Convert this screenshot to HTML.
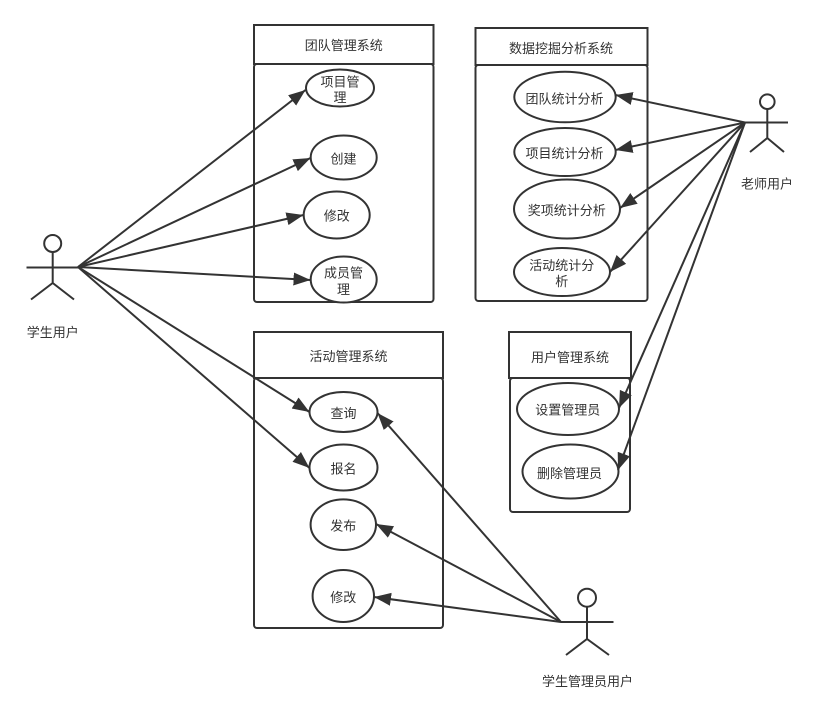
<!DOCTYPE html>
<html>
<head>
<meta charset="utf-8">
<style>
html,body{margin:0;padding:0;background:#fff;}
svg{display:block;}
text{font-family:"Liberation Sans","Noto Sans CJK SC",sans-serif;font-size:13px;fill:#333;text-anchor:middle;}
.s{fill:#fff;stroke:#333;stroke-width:2;}
.l{fill:none;stroke:#333;stroke-width:2;}
</style>
</head>
<body>
<svg width="819" height="716" viewBox="0 0 819 716" xmlns="http://www.w3.org/2000/svg">
<defs>
<marker id="a" markerUnits="userSpaceOnUse" markerWidth="18" markerHeight="14" refX="17" refY="7" orient="auto">
<path d="M0 0.500L17 7L0 13.500Z" fill="#333"/>
</marker>
</defs>

<!-- containers -->
<rect class="s" x="254" y="64" width="179.500" height="238" rx="3"/>
<rect class="s" x="254" y="25" width="179.500" height="39"/>
<rect class="s" x="475.500" y="65" width="172" height="236" rx="3"/>
<rect class="s" x="475.500" y="28" width="172" height="37"/>
<rect class="s" x="254" y="378" width="189" height="250" rx="3"/>
<rect class="s" x="254" y="332" width="189" height="46"/>
<rect class="s" x="510" y="378" width="120" height="134" rx="3"/>
<rect class="s" x="509" y="332" width="122" height="46"/>

<!-- ellipses -->
<ellipse class="s" cx="340" cy="88" rx="34" ry="18.500"/>
<ellipse class="s" cx="343.700" cy="157.500" rx="33" ry="22"/>
<ellipse class="s" cx="336.700" cy="215" rx="33" ry="23.500"/>
<ellipse class="s" cx="343.700" cy="279.500" rx="33" ry="23"/>
<ellipse class="s" cx="565" cy="97" rx="50.700" ry="25.300"/>
<ellipse class="s" cx="565" cy="152" rx="50.700" ry="24"/>
<ellipse class="s" cx="567" cy="209" rx="53" ry="29.500"/>
<ellipse class="s" cx="562" cy="272" rx="48" ry="24"/>
<ellipse class="s" cx="343.500" cy="412" rx="34" ry="20"/>
<ellipse class="s" cx="343.500" cy="467.500" rx="34" ry="23"/>
<ellipse class="s" cx="343.300" cy="524.700" rx="32.700" ry="25.300"/>
<ellipse class="s" cx="343.300" cy="596" rx="30.700" ry="26"/>
<ellipse class="s" cx="568" cy="409" rx="51" ry="26"/>
<ellipse class="s" cx="570.500" cy="471.500" rx="48" ry="27"/>

<!-- connectors -->
<g>
<line class="l" x1="78" y1="267" x2="305.500" y2="90" marker-end="url(#a)"/>
<line class="l" x1="78" y1="267" x2="310.500" y2="158" marker-end="url(#a)"/>
<line class="l" x1="78" y1="267" x2="303.500" y2="215" marker-end="url(#a)"/>
<line class="l" x1="78" y1="267" x2="310.500" y2="280" marker-end="url(#a)"/>
<line class="l" x1="78" y1="267" x2="309.500" y2="412" marker-end="url(#a)"/>
<line class="l" x1="78" y1="267" x2="309.500" y2="468" marker-end="url(#a)"/>
<line class="l" x1="745" y1="122.500" x2="615.500" y2="95" marker-end="url(#a)"/>
<line class="l" x1="745" y1="122.500" x2="615.500" y2="150" marker-end="url(#a)"/>
<line class="l" x1="745" y1="122.500" x2="620" y2="208" marker-end="url(#a)"/>
<line class="l" x1="745" y1="122.500" x2="610" y2="272" marker-end="url(#a)"/>
<line class="l" x1="745" y1="122.500" x2="619" y2="408" marker-end="url(#a)"/>
<line class="l" x1="745" y1="122.500" x2="618" y2="470" marker-end="url(#a)"/>
<line class="l" x1="561" y1="622" x2="377.500" y2="413" marker-end="url(#a)"/>
<line class="l" x1="561" y1="622" x2="376" y2="524" marker-end="url(#a)"/>
<line class="l" x1="561" y1="622" x2="374" y2="597" marker-end="url(#a)"/>
</g>

<!-- actors -->
<g class="l">
<circle cx="52.700" cy="243.500" r="8.500"/>
<path d="M52.700 252V283M26.500 267.500H78M31 299.500L52.700 283L74 299.500"/>
<circle cx="767.300" cy="101.700" r="7.300"/>
<path d="M767.300 109V138M745 122.500H788M750 152L767.300 138L784 152"/>
<circle cx="587" cy="597.700" r="9"/>
<path d="M587 606.700V639M561 622H613.500M566 655L587 639L609 655"/>
</g>

<!-- labels -->
<text x="343.700" y="50">团队管理系统</text>
<text x="561" y="53">数据挖掘分析系统</text>
<text x="348.500" y="361">活动管理系统</text>
<text x="570" y="362">用户管理系统</text>
<text x="340" y="86.500">项目管</text>
<text x="340" y="102">理</text>
<text x="343.500" y="163.500">创建</text>
<text x="336.700" y="220.500">修改</text>
<text x="343.500" y="277.500">成员管</text>
<text x="343.500" y="294">理</text>
<text x="564.500" y="103.500">团队统计分析</text>
<text x="564.500" y="158">项目统计分析</text>
<text x="566.700" y="215">奖项统计分析</text>
<text x="561.700" y="270">活动统计分</text>
<text x="561.700" y="286">析</text>
<text x="343.500" y="418">查询</text>
<text x="343.500" y="473.500">报名</text>
<text x="343.300" y="530.500">发布</text>
<text x="343.300" y="602">修改</text>
<text x="567.700" y="414.500">设置管理员</text>
<text x="569.500" y="478">删除管理员</text>
<text x="52.800" y="337">学生用户</text>
<text x="767" y="188.500">老师用户</text>
<text x="587.500" y="686">学生管理员用户</text>
</svg>
</body>
</html>
